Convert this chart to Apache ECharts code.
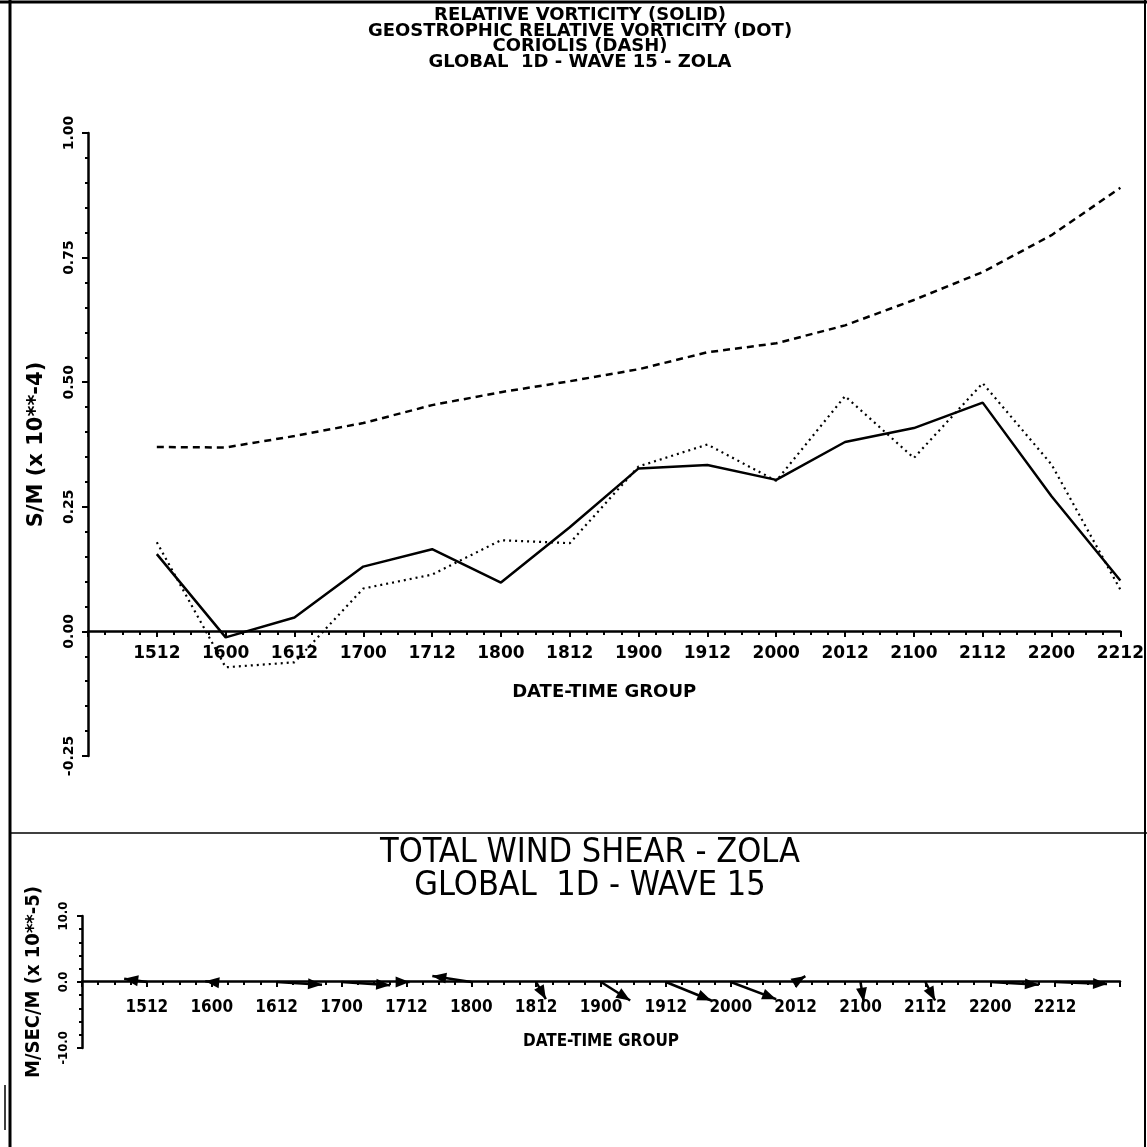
<!DOCTYPE html>
<html lang="en">
<head>
    <meta charset="UTF-8">
    <title>Relative vorticity / wind shear - ZOLA</title>
    <script src="https://cdn.jsdelivr.net/npm/echarts@6/dist/echarts.min.js"></script>
    <style>
        html, body { margin: 0; padding: 0; background: #fff; }
        #chart { width: 1147px; height: 1147px; }
    </style>
</head>
<body>
<div id="chart"></div>
<script type="text/javascript">
    // date-time groups (day + hour), 12 hourly
    var timeLabels = ['1512', '1600', '1612', '1700', '1712', '1800', '1812', '1900',
                      '1912', '2000', '2012', '2100', '2112', '2200', '2212'];
    // S/M (x 10**-4)
    var relVort  = [0.155, -0.012, 0.028, 0.130, 0.165, 0.098, 0.209, 0.327,
                    0.334, 0.304, 0.380, 0.408, 0.459, 0.271, 0.102];
    var geoVort  = [0.179, -0.072, -0.062, 0.086, 0.114, 0.183, 0.177, 0.331,
                    0.375, 0.302, 0.472, 0.348, 0.498, 0.335, 0.084];
    var coriolis = [0.370, 0.369, 0.392, 0.418, 0.454, 0.480, 0.502, 0.526,
                    0.560, 0.578, 0.614, 0.665, 0.721, 0.795, 0.890];
    // wind shear vectors, u in time steps, v in M/SEC/M (x 10**-5)
    var shearU = [-0.35, -0.10, 0.70, 0.75, 0.05, -0.60, 0.15, 0.45,
                  0.70, 0.70, 0.15, 0.05, 0.15, 0.75, 0.80];
    var shearV = [0.5, 0.1, -0.4, -0.5, 0.0, 0.9, -2.6, -2.8,
                  -2.8, -2.6, 0.9, -3.0, -2.8, -0.4, -0.3];

    var FONT = '"DejaVu Sans", sans-serif';
    var FONT_C = '"DejaVu Sans Condensed", "Liberation Sans Narrow", "DejaVu Sans", sans-serif';

    function pairs(arr) {
        return arr.map(function (v, i) { return [i + 1, v]; });
    }
    function timeFmt(v) {
        return timeLabels[v - 1] || '';
    }

    var shearData = shearU.map(function (u, i) { return [i + 1, u, shearV[i]]; });

    function renderArrow(params, api) {
        var i = api.value(0), u = api.value(1), v = api.value(2);
        var a = api.coord([i, 0]);
        var b = api.coord([i + u, v]);
        var dx = b[0] - a[0], dy = b[1] - a[1];
        var len = Math.sqrt(dx * dx + dy * dy) || 1;
        var ux = dx / len, uy = dy / len;
        var hl = 14, hw = 5.5;
        var bx = b[0] - ux * hl, by = b[1] - uy * hl;
        return {
            type: 'group',
            children: [
                { type: 'line', shape: { x1: a[0], y1: a[1], x2: b[0], y2: b[1] },
                  style: { stroke: '#000', lineWidth: 2.5 } },
                { type: 'polygon',
                  shape: { points: [[b[0], b[1]], [bx - uy * hw, by + ux * hw], [bx + uy * hw, by - ux * hw]] },
                  style: { fill: '#000' } }
            ]
        };
    }

    var myChart = echarts.init(document.getElementById('chart'));
    var option = {
        animation: false,
        backgroundColor: '#fff',
        title: [
            {
                text: 'RELATIVE VORTICITY (SOLID)\nGEOSTROPHIC RELATIVE VORTICITY (DOT)\nCORIOLIS (DASH)\nGLOBAL  1D - WAVE 15 - ZOLA',
                left: 580, top: 8, padding: 0,
                textAlign: 'center',
                textStyle: { color: '#000', fontFamily: FONT, fontWeight: 'bold', fontSize: 18, lineHeight: 15.5 }
            },
            {
                text: 'TOTAL WIND SHEAR - ZOLA\nGLOBAL  1D - WAVE 15',
                left: 590, top: 837, padding: 0,
                textAlign: 'center',
                textStyle: { color: '#000', fontFamily: FONT_C, fontWeight: 'normal', fontSize: 34, lineHeight: 33 }
            }
        ],
        graphic: [
            { type: 'line', shape: { x1: 10, y1: 0, x2: 10, y2: 1147 }, style: { stroke: '#000', lineWidth: 3 } },
            { type: 'line', shape: { x1: 0, y1: 2, x2: 1147, y2: 2 }, style: { stroke: '#000', lineWidth: 3 } },
            { type: 'line', shape: { x1: 1145, y1: 0, x2: 1145, y2: 1147 }, style: { stroke: '#000', lineWidth: 2 } },
            { type: 'line', shape: { x1: 10, y1: 833, x2: 1147, y2: 833 }, style: { stroke: '#000', lineWidth: 1.5 } },
            { type: 'line', shape: { x1: 5, y1: 1085, x2: 5, y2: 1130 }, style: { stroke: '#000', lineWidth: 1.5 } }
        ],
        grid: [
            { left: 88, right: 20, top: 133, bottom: 391 },
            { left: 82, right: 27, top: 916, bottom: 99 }
        ],
        xAxis: [
            {
                // axis drawn on the zero line, 0.25 units above the grid bottom
                gridIndex: 0, type: 'value', min: 0, max: 15, interval: 1,
                offset: -125,
                name: 'DATE-TIME GROUP', nameLocation: 'middle', nameGap: 52,
                nameTextStyle: { color: '#000', fontFamily: FONT, fontWeight: 'bold', fontSize: 18 },
                axisLine: { onZero: false, lineStyle: { color: '#000', width: 2.5 } },
                axisTick: { length: 6, lineStyle: { color: '#000', width: 2 } },
                minorTick: { show: true, splitNumber: 4, length: 4, lineStyle: { color: '#000', width: 2 } },
                axisLabel: { color: '#000', fontFamily: FONT, fontWeight: 'bold', fontSize: 17, margin: 14, formatter: timeFmt },
                splitLine: { show: false }
            },
            {
                gridIndex: 1, type: 'value', min: 0, max: 16, interval: 1,
                offset: -67,
                name: 'DATE-TIME GROUP', nameLocation: 'middle', nameGap: 52,
                nameTextStyle: { color: '#000', fontFamily: FONT_C, fontWeight: 'bold', fontSize: 17 },
                axisLine: { onZero: false, lineStyle: { color: '#000', width: 2.5 } },
                axisTick: { length: 6, lineStyle: { color: '#000', width: 2 } },
                minorTick: { show: true, splitNumber: 4, length: 4, lineStyle: { color: '#000', width: 2 } },
                axisLabel: { color: '#000', fontFamily: FONT_C, fontWeight: 'bold', fontSize: 17, margin: 18, formatter: timeFmt },
                splitLine: { show: false }
            }
        ],
        yAxis: [
            {
                gridIndex: 0, type: 'value', min: -0.25, max: 1.0, interval: 0.25,
                name: 'S/M (x 10**-4)', nameLocation: 'middle', nameGap: 41,
                nameTextStyle: { color: '#000', fontFamily: FONT, fontWeight: 'bold', fontSize: 21 },
                axisLine: { show: true, onZero: false, lineStyle: { color: '#000', width: 2.5 } },
                axisTick: { length: 6, lineStyle: { color: '#000', width: 2 } },
                minorTick: { show: true, splitNumber: 5, length: 3, lineStyle: { color: '#000', width: 2 } },
                axisLabel: { color: '#000', fontFamily: FONT, fontWeight: 'bold', fontSize: 14, rotate: 90, margin: 12,
                    formatter: function (v) { return v.toFixed(2); } },
                splitLine: { show: false }
            },
            {
                gridIndex: 1, type: 'value', min: -10, max: 10, interval: 10,
                name: 'M/SEC/M (x 10**-5)', nameLocation: 'middle', nameGap: 38,
                nameTextStyle: { color: '#000', fontFamily: FONT_C, fontWeight: 'bold', fontSize: 20 },
                axisLine: { show: true, onZero: false, lineStyle: { color: '#000', width: 2.5 } },
                axisTick: { length: 5, lineStyle: { color: '#000', width: 2 } },
                minorTick: { show: true, splitNumber: 5, length: 3, lineStyle: { color: '#000', width: 2 } },
                axisLabel: { color: '#000', fontFamily: FONT_C, fontWeight: 'bold', fontSize: 13, rotate: 90, margin: 12,
                    formatter: function (v) { return v.toFixed(1); } },
                splitLine: { show: false }
            }
        ],
        series: [
            {
                name: 'RELATIVE VORTICITY', type: 'line', xAxisIndex: 0, yAxisIndex: 0,
                data: pairs(relVort), showSymbol: false,
                lineStyle: { color: '#000', width: 2.5, type: 'solid' }
            },
            {
                name: 'GEOSTROPHIC RELATIVE VORTICITY', type: 'line', xAxisIndex: 0, yAxisIndex: 0,
                data: pairs(geoVort), showSymbol: false,
                lineStyle: { color: '#000', width: 2.2, type: [2, 4] }
            },
            {
                name: 'CORIOLIS', type: 'line', xAxisIndex: 0, yAxisIndex: 0,
                data: pairs(coriolis), showSymbol: false,
                lineStyle: { color: '#000', width: 2.5, type: [7, 5] }
            },
            {
                name: 'TOTAL WIND SHEAR', type: 'custom', xAxisIndex: 1, yAxisIndex: 1,
                renderItem: renderArrow, data: shearData, clip: false
            }
        ]
    };
    myChart.setOption(option);
</script>
</body>
</html>
